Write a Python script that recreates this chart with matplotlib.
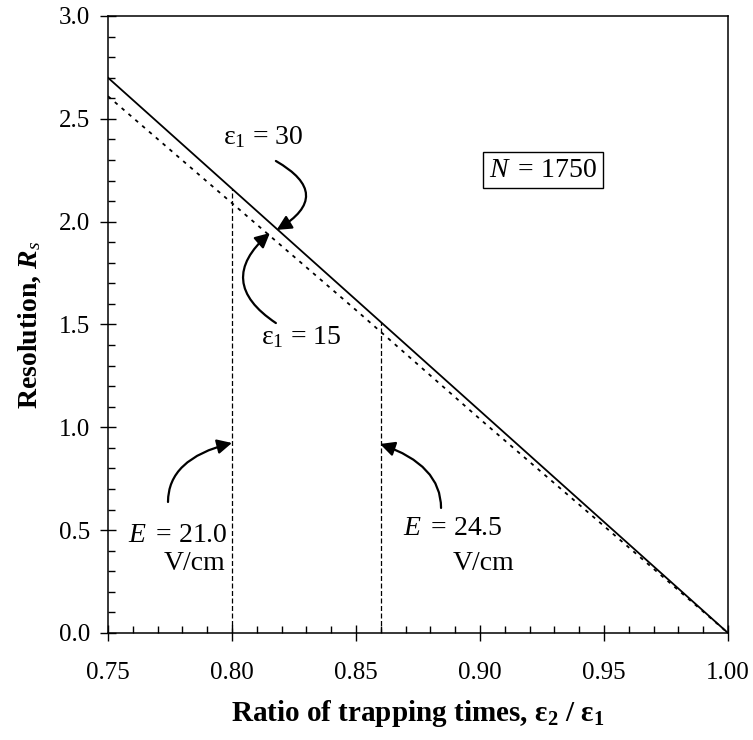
import numpy as np
import matplotlib
matplotlib.use('Agg')
import matplotlib.pyplot as plt
from matplotlib.ticker import MultipleLocator, FormatStrFormatter

plt.rcParams['font.family'] = ['Liberation Serif', 'DejaVu Serif']
plt.rcParams['mathtext.fontset'] = 'custom'
plt.rcParams['mathtext.rm'] = 'Liberation Serif'
plt.rcParams['mathtext.it'] = 'Liberation Serif:italic'
plt.rcParams['mathtext.bf'] = 'Liberation Serif:bold:italic'
plt.rcParams['mathtext.sf'] = 'Liberation Serif:bold'

# data
ratio = [0.75, 0.80, 0.85, 0.90, 0.95, 1.00]
rs_eps30 = [2.70, 2.16, 1.62, 1.08, 0.54, 0.00]   # solid
rs_eps15 = [2.61, 2.09, 1.57, 1.04, 0.52, 0.00]   # dotted
field_ratio = [0.80, 0.86]                         # E = 21.0, 24.5 V/cm
field_labels = ['21.0', '24.5']

fig = plt.figure(figsize=(7.53, 7.40), dpi=100)
ax = fig.add_axes([0.1434, 0.1446, 0.8234, 0.8338])

ax.plot(ratio, rs_eps30, color='black', lw=1.3)
ax.plot(ratio, rs_eps15, color='black', lw=1.3, linestyle=(0, (2, 3)))

tops = np.interp(field_ratio, ratio, rs_eps30)
ax.vlines(field_ratio, 0, tops, colors='black', lw=0.9, linestyles=(0, (4, 2)))

ax.set_xlim(0.75, 1.00)
ax.set_ylim(0, 3.0)
ax.xaxis.set_major_locator(MultipleLocator(0.05))
ax.xaxis.set_minor_locator(MultipleLocator(0.01))
ax.yaxis.set_major_locator(MultipleLocator(0.5))
ax.yaxis.set_minor_locator(MultipleLocator(0.1))
ax.xaxis.set_major_formatter(FormatStrFormatter('%.2f'))
ax.yaxis.set_major_formatter(FormatStrFormatter('%.1f'))
ax.tick_params(which='major', direction='inout', length=12, width=1, labelsize=18)
ax.tick_params(axis='x', which='major', pad=15)
ax.tick_params(axis='y', which='major', pad=7)
ax.tick_params(which='minor', direction='in', length=5, width=1)
for s in ax.spines.values():
    s.set_linewidth(1.1)

ax.set_xlabel('Ratio of trapping times, ε$_\\mathsf{2}$ / ε$_\\mathsf{1}$',
              fontsize=21, fontweight='bold', labelpad=10)
ax.set_ylabel('Resolution, $\\mathbf{R}_s$', fontsize=20, fontweight='bold', labelpad=11)

fs = 20
arrow = dict(arrowstyle='-|>', color='black', lw=1.6, mutation_scale=22, shrinkA=0, shrinkB=0)

ax.text(0.8125, 2.41, 'ε$_1$ = 30', fontsize=fs, ha='center', va='center')
ax.annotate('', xy=(0.818, 1.96), xytext=(0.8177, 2.295),
            arrowprops=dict(arrow, connectionstyle='arc3,rad=-0.85'))

ax.text(0.8278, 1.44, 'ε$_1$ = 15', fontsize=fs, ha='center', va='center')
ax.annotate('', xy=(0.8153, 1.945), xytext=(0.8177, 1.507),
            arrowprops=dict(arrow, connectionstyle='arc3,rad=-0.65'))

ax.text(0.778, 0.476, '$E\\,$ = ' + field_labels[0], fontsize=fs, ha='center', va='center')
ax.text(0.7851, 0.34, 'V/cm', fontsize=fs, ha='center', va='center')
ax.annotate('', xy=(0.80, 0.924), xytext=(0.7742, 0.637),
            arrowprops=dict(arrow, connectionstyle='angle3,angleA=90,angleB=14'))

ax.text(0.8891, 0.51, '$E\\,$ = ' + field_labels[1], fontsize=fs, ha='center', va='center')
ax.text(0.9016, 0.34, 'V/cm', fontsize=fs, ha='center', va='center')
ax.annotate('', xy=(0.8597, 0.919), xytext=(0.8843, 0.608),
            arrowprops=dict(arrow, connectionstyle='angle3,angleA=90,angleB=-19'))

ax.text(0.9254, 2.251, '$N\\,$ = 1750', fontsize=fs, ha='center', va='center',
        bbox=dict(boxstyle='square,pad=0.2', fc='white', ec='black', lw=1))

fig.savefig('out.png', dpi=100)
